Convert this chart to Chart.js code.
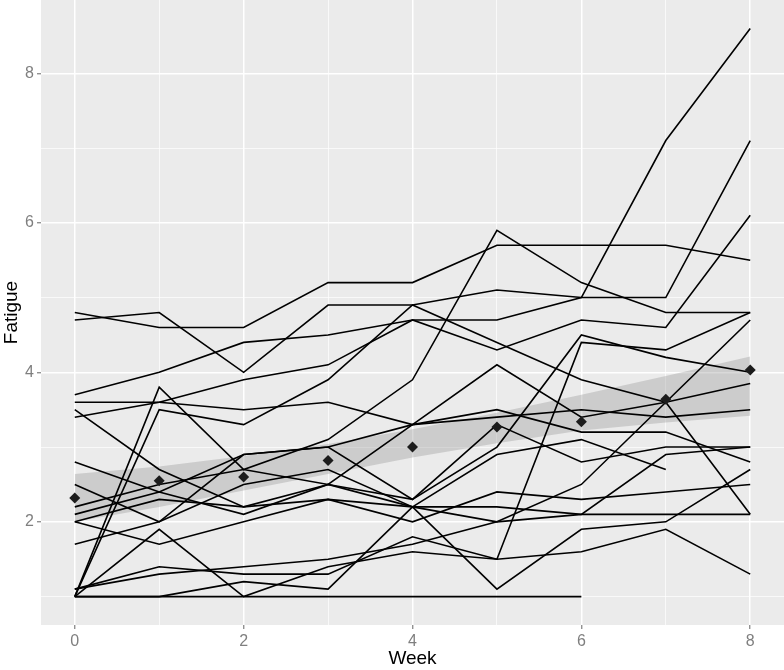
<!DOCTYPE html>
<html>
<head>
<meta charset="utf-8">
<script src="https://cdn.jsdelivr.net/npm/chart.js@4.4.1/dist/chart.umd.min.js"></script>
<style>
  html, body { margin: 0; padding: 0; background: #ffffff; }
  #wrap { width: 784px; height: 670px; }
</style>
</head>
<body>
<div id="wrap"><canvas id="c" width="784" height="670"></canvas></div>
<script>
// ---- data ----
const weeks = [0, 1, 2, 3, 4, 5, 6, 7, 8];

const s01 = [4.8, 4.6, 4.6, 5.2, 5.2, 5.7, 5.7, 5.7, 5.5];
const s02 = [4.7, 4.8, 4.0, 4.9, 4.9, 5.1, 5.0, 5.0, 7.1];
const s03 = [3.7, 4.0, 4.4, 4.5, 4.7, 4.7, 5.0, 7.1, 8.6];
const s04 = [3.6, 3.6, 3.5, 3.6, 3.3, 3.4, 3.5, 3.4, 3.5];
const s05 = [3.4, 3.6, 3.9, 4.1, 4.7, 4.3, 4.7, 4.6, 6.1];
const s06 = [3.5, 2.7, 2.2, 2.3, 2.2, 2.0, 2.1, 2.9, 3.0];
const s07 = [1.0, 3.8, 2.7, 3.1, 3.9, 5.9, 5.2, 4.8, 4.8];
const s08 = [1.0, 3.5, 3.3, 3.9, 4.9, 4.4, 3.9, 3.6, 2.1];
const s09 = [2.8, 2.4, 2.1, 2.5, 2.2, 2.2, 2.1, 2.1, 2.1];
const s10 = [2.5, 2.0, 2.9, 3.0, 3.3, 3.5, 3.2, 3.2, 2.8];
const s11 = [2.2, 2.5, 2.7, 2.5, 3.3, 4.1, 3.4, 3.6, 3.85];
const s12 = [2.1, 2.4, 2.9, 3.0, 2.3, 3.3, 2.8, 3.0, 3.0];
const s13 = [2.0, 1.7, 2.0, 2.3, 2.0, 2.4, 2.3, 2.4, 2.5];
const s14 = [2.0, 2.3, 2.2, 2.5, 2.3, 3.0, 4.5, 4.2, 4.0];
const s15 = [1.7, 2.0, 2.5, 2.7, 2.2, 2.9, 3.1, 2.7, null];
const s16 = [1.1, 1.4, 1.3, 1.3, 1.8, 1.5, 1.6, 1.9, 1.3];
const s17 = [1.1, 1.3, 1.4, 1.5, 1.7, 2.0, 2.5, 3.6, 4.7];
const s18 = [1.0, 1.0, 1.2, 1.1, 2.2, 1.1, 1.9, 2.0, 2.7];
const s19 = [1.0, 1.9, 1.0, 1.4, 1.6, 1.5, 4.4, 4.3, 4.8];
const s20 = [1.0, 1.0, 1.0, 1.0, 1.0, 1.0, 1.0, null, null];

const subjects = [s01, s02, s03, s04, s05, s06, s07, s08, s09, s10,
                  s11, s12, s13, s14, s15, s16, s17, s18, s19, s20];

const meanFatigue = [2.32, 2.55, 2.60, 2.82, 3.00, 3.27, 3.34, 3.64, 4.03];

const bandLower = [2.00, 2.20, 2.42, 2.64, 2.86, 3.05, 3.22, 3.33, 3.42];
const bandUpper = [2.64, 2.74, 2.88, 3.04, 3.24, 3.46, 3.70, 3.95, 4.21];

const xTicks = [0, 1, 2, 3, 4, 5, 6, 7, 8];
const yTicks = [1, 2, 3, 4, 5, 6, 7, 8];

// ---- helpers ----
const pts = arr => weeks.map((w, i) => ({ x: w, y: arr[i] }));

const datasets = [];
datasets.push({
  label: 'bandLower', data: pts(bandLower), borderWidth: 0, pointRadius: 0,
  borderColor: 'rgba(0,0,0,0)', fill: false, order: 5
});
datasets.push({
  label: 'bandUpper', data: pts(bandUpper), borderWidth: 0, pointRadius: 0,
  borderColor: 'rgba(0,0,0,0)', backgroundColor: 'rgba(150,150,150,0.36)',
  fill: '-1', order: 5
});
subjects.forEach((s, i) => {
  datasets.push({
    label: 'S' + (i + 1), data: pts(s), borderColor: '#000000', borderWidth: 1.6,
    pointRadius: 0, fill: false, spanGaps: false, order: 3
  });
});
datasets.push({
  label: 'mean', data: pts(meanFatigue), showLine: false, pointStyle: 'rectRot',
  pointRadius: 5.5, pointBackgroundColor: '#1c1c1c', pointBorderColor: '#1c1c1c',
  pointBorderWidth: 0, order: 1
});

const bgPlugin = {
  id: 'bg',
  beforeDraw(chart) {
    const { ctx, chartArea: a } = chart;
    ctx.save();
    ctx.fillStyle = '#ffffff';
    ctx.fillRect(0, 0, chart.width, chart.height);
    ctx.fillStyle = '#EBEBEB';
    ctx.fillRect(a.left, a.top, a.right - a.left, a.bottom - a.top);
    ctx.restore();
  }
};

const isMajor = v => Math.round(v) % 2 === 0;
const gridOpts = {
  color: '#ffffff',
  lineWidth: c => (c.tick && isMajor(c.tick.value)) ? 1.5 : 0.7,
  tickColor: c => (c.tick && isMajor(c.tick.value)) ? '#7f7f7f' : 'rgba(0,0,0,0)',
  tickLength: 4,
  tickWidth: 1.2,
  drawTicks: true,
  drawOnChartArea: true
};
const tickFont = { family: '"Liberation Sans", Arial, sans-serif', size: 16 };
const titleFont = { family: '"Liberation Sans", Arial, sans-serif', size: 19 };
const noPad = s => { s.paddingTop = 0; s.paddingBottom = 0; s.paddingLeft = 0; s.paddingRight = 0; };

new Chart(document.getElementById('c'), {
  type: 'line',
  data: { datasets },
  plugins: [bgPlugin],
  options: {
    responsive: false,
    animation: false,
    devicePixelRatio: 1,
    layout: { padding: 0, autoPadding: false },
    plugins: { legend: { display: false }, tooltip: { enabled: false } },
    elements: { line: { tension: 0 } },
    scales: {
      x: {
        type: 'linear', min: -0.4, max: 8.4,
        afterBuildTicks: s => { s.ticks = xTicks.map(v => ({ value: v })); },
        afterFit: s => { s.height = 45; noPad(s); },
        border: { display: false },
        grid: gridOpts,
        ticks: {
          autoSkip: false, maxRotation: 0, padding: 3, color: '#7f7f7f', font: tickFont,
          callback: v => isMajor(v) ? String(v) : ''
        },
        title: { display: true, text: 'Week', color: '#000000', font: titleFont, padding: { top: 0, bottom: 0 } }
      },
      y: {
        type: 'linear', min: 0.62, max: 8.98,
        afterBuildTicks: s => { s.ticks = yTicks.map(v => ({ value: v })); },
        afterFit: s => { s.width = 41; noPad(s); },
        border: { display: false },
        grid: gridOpts,
        ticks: {
          autoSkip: false, padding: 3, color: '#7f7f7f', font: tickFont,
          callback: v => isMajor(v) ? String(v) : ''
        },
        title: { display: true, text: 'Fatigue', color: '#000000', font: titleFont, padding: { top: 0, bottom: 0 } }
      }
    }
  }
});
</script>
</body>
</html>
